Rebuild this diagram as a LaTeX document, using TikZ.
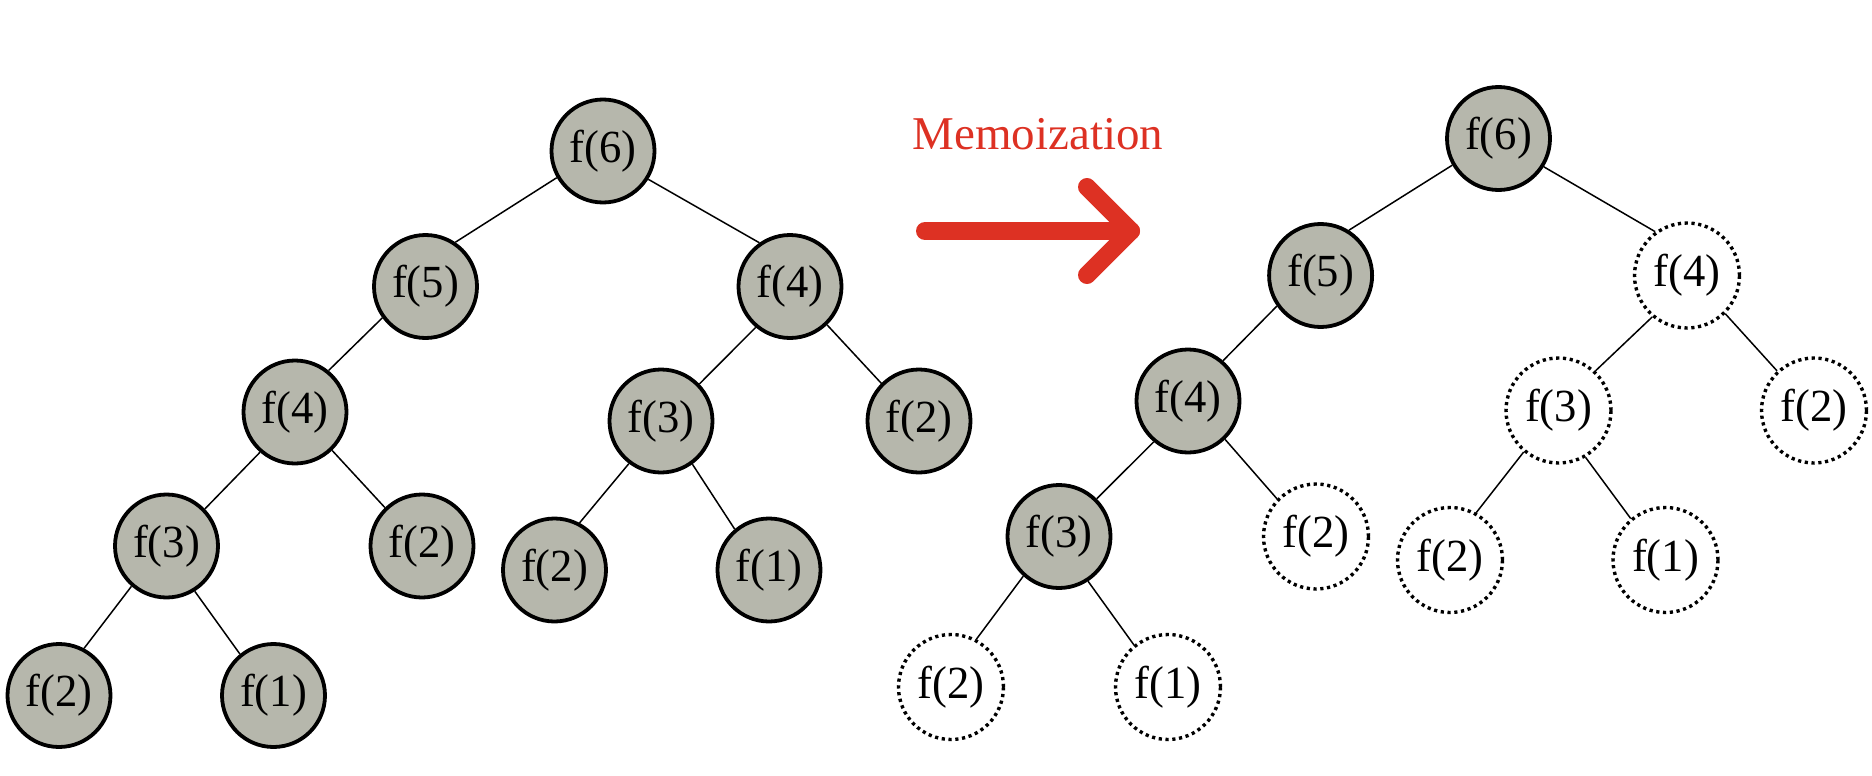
\documentclass[tikz,border=0pt]{standalone}
\usepackage{graphicx}
\usepackage{fontspec}
\setmainfont{Liberation Serif}
\definecolor{nodegray}{RGB}{182,183,172}
\definecolor{memored}{RGB}{221,49,35}
\newcommand{\ftxt}[1]{\scalebox{0.97}[1]{#1}}
\tikzset{
  full/.style={circle, draw=black, line width=3.8pt, fill=nodegray, minimum size=103pt, inner sep=0pt,
    font=\fontsize{46}{52}\selectfont},
  memo/.style={circle, draw=black, line width=3.4pt, dash pattern=on 3.2pt off 3.6pt, fill=white, minimum size=105pt, inner sep=0pt,
    font=\fontsize{46}{52}\selectfont},
  edge/.style={line width=1.5pt, black},
  bigarrow/.style={memored, line width=18pt, line cap=round, line join=round},
}
\begin{document}
\begin{tikzpicture}[x=1pt, y=-1pt]
\useasboundingbox (0,0) rectangle (1872,776);
% ---------- left tree ----------
\node[full] (L6) at (603,151) {\ftxt{f(6)}};
\node[full] (L5) at (425.5,286.5) {\ftxt{f(5)}};
\node[full] (L4a) at (790,286.5) {\ftxt{f(4)}};
\node[full] (L4b) at (295,412) {\ftxt{f(4)}};
\node[full] (L3a) at (661,421) {\ftxt{f(3)}};
\node[full] (L2a) at (919,421) {\ftxt{f(2)}};
\node[full] (L3b) at (166.5,546) {\ftxt{f(3)}};
\node[full] (L2b) at (422,546) {\ftxt{f(2)}};
\node[full] (L2c) at (554.5,570) {\ftxt{f(2)}};
\node[full] (L1c) at (769,570) {\ftxt{f(1)}};
\node[full] (L2d) at (59,695.5) {\ftxt{f(2)}};
\node[full] (L1d) at (273.5,695.5) {\ftxt{f(1)}};
\draw[edge] (L6.210) -- (L5.56);
\draw[edge] (L6.-32) -- (L4a.125);
\draw[edge] (L5.216) -- (L4b.51);
\draw[edge] (L4a.230) -- (L3a.44);
\draw[edge] (L4a.-46) -- (L2a.135);
\draw[edge] (L4b.229) -- (L3b.44);
\draw[edge] (L4b.-46) -- (L2b.134);
\draw[edge] (L3a.233) -- (L2c.62);
\draw[edge] (L3a.-54) -- (L1c.130);
\draw[edge] (L3b.229) -- (L2d.62);
\draw[edge] (L3b.-58) -- (L1d.129);
% ---------- arrow and label ----------
\node[text=memored, font=\fontsize{47}{53}\selectfont, anchor=base] (lbl) at (1038,149) {Memoization};
\coordinate (aS) at (925,231);
\coordinate (aE) at (1131,231);
\coordinate (aU) at (1087,187);
\coordinate (aD) at (1087,275);
\draw[bigarrow] (aS) -- (aE);
\draw[bigarrow] (aU) -- (aE) -- (aD);
% ---------- right tree ----------
\node[full] (R6) at (1498.5,138.5) {\ftxt{f(6)}};
\node[full] (R5) at (1320.6,275.5) {\ftxt{f(5)}};
\node[memo] (R4d) at (1687,275.5) {\ftxt{f(4)}};
\node[full] (R4) at (1188,401) {\ftxt{f(4)}};
\node[memo] (R3d) at (1558.5,410.5) {\ftxt{f(3)}};
\node[memo] (R2d) at (1814,410.5) {\ftxt{f(2)}};
\node[full] (R3) at (1059,536.5) {\ftxt{f(3)}};
\node[memo] (R2e) at (1316,536.5) {\ftxt{f(2)}};
\node[memo] (R2f) at (1450,560) {\ftxt{f(2)}};
\node[memo] (R1f) at (1665.5,560) {\ftxt{f(1)}};
\node[memo] (R2g) at (951,687) {\ftxt{f(2)}};
\node[memo] (R1g) at (1168,687) {\ftxt{f(1)}};
\draw[edge] (R6.210) -- (R5.58);
\draw[edge] (R6.-32) -- (R4d.126);
\draw[edge] (R5.215) -- (R4.49);
\draw[edge] (R4d.230) -- (R3d.47);
\draw[edge] (R4d.-45) -- (R2d.133);
\draw[edge] (R4.230) -- (R3.45);
\draw[edge] (R4.-46) -- (R2e.136);
\draw[edge] (R3d.230) -- (R2f.61);
\draw[edge] (R3d.-60) -- (R1f.130);
\draw[edge] (R3.228) -- (R2g.62);
\draw[edge] (R3.-57) -- (R1g.129);
\end{tikzpicture}
\end{document}
